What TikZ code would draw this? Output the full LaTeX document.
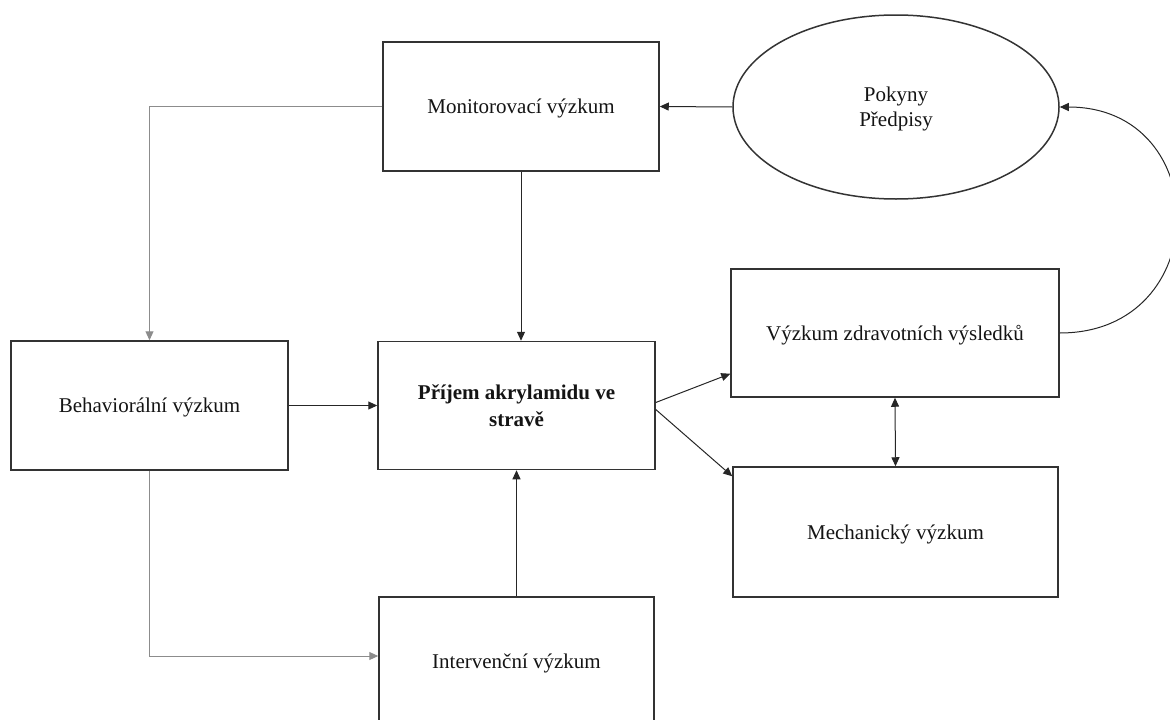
\documentclass[tikz,border=0pt]{standalone}
\usepackage{fontspec}
\setmainfont{Liberation Serif}
\usetikzlibrary{arrows.meta,shapes.geometric,calc}
\begin{document}
\begin{tikzpicture}[x=1pt,y=-1pt,
  box/.style={draw=black!80, line width=1.5pt, rectangle, inner sep=0pt, align=center,
    text=black!92, text depth=-5.5pt, font=\fontsize{21}{26.5}\selectfont},
  oval/.style={draw=black!80, line width=1.5pt, ellipse, inner sep=0pt, align=center,
    text=black!92, text depth=-5pt, font=\fontsize{21}{25}\selectfont},
  conn/.style={draw=black!85, line width=1pt, -{Triangle[length=9pt,width=8pt]}},
  bicon/.style={draw=black!85, line width=1pt, {Triangle[length=9pt,width=8pt]}-{Triangle[length=9pt,width=8pt]}},
  grey/.style={draw=black!45, line width=1pt, -{Triangle[length=9pt,width=8pt]}}]
\useasboundingbox (0,0) rectangle (1170,720);

\node[box, minimum width=276pt, minimum height=129pt] (mon) at (521,106.5) {Monitorovací výzkum};
\node[box, minimum width=277pt, minimum height=129pt] (behav) at (149.5,405.5) {Behaviorální výzkum};
\node[box, text depth=-3pt, minimum width=277pt, minimum height=128pt] (prijem) at (516.5,405.5) {\bfseries Příjem akrylamidu ve\\\bfseries stravě};
\node[box, minimum width=275pt, minimum height=128pt] (interv) at (516.5,661) {Intervenční výzkum};
\node[box, minimum width=328pt, minimum height=128pt] (zdrav) at (895,333) {Výzkum zdravotních výsledků};
\node[box, minimum width=325pt, minimum height=130pt] (mech) at (895.5,532) {Mechanický výzkum};
\node[oval, minimum width=326pt, minimum height=184pt] (ell) at (896,107) {Pokyny\\Předpisy};

\draw[grey] (mon.west) -| (behav.north);
\draw[grey] (behav.south) |- ($(interv.west)+(0,-5)$);
\draw[conn] (mon.south) -- (mon.south |- prijem.north);
\draw[conn] (ell.west) -- (mon.east);
\draw[conn] (behav.east) -- (prijem.west);
\draw[conn] (interv.north) -- (prijem.south);
\draw[conn] ($(prijem.east)+(0,-3)$) -- ($(zdrav.south west)+(0,-24)$);
\draw[conn] ($(prijem.east)+(0,4)$) -- ($(mech.north west)+(0,10)$);
\draw[bicon] (zdrav.south) -- (mech.north);
\draw[conn] (zdrav.east) .. controls ($(zdrav.east)+(155,0)$) and ($(ell.east)+(155,0)$) .. (ell.east);
\end{tikzpicture}
\end{document}
